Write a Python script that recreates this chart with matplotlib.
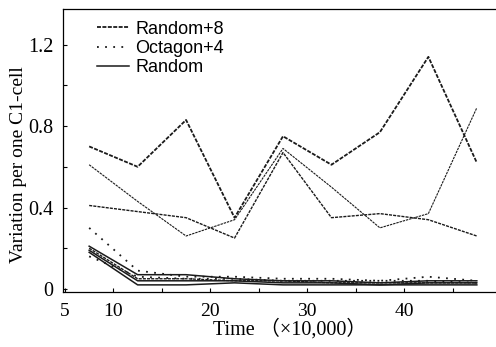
import matplotlib.pyplot as plt
from matplotlib.ticker import FixedLocator

# time steps (x10,000)
time = [7.5, 12.5, 17.5, 22.5, 27.5, 32.5, 37.5, 42.5, 47.5]

# upper runs (Random+8)
rand8_a = [0.70, 0.60, 0.83, 0.35, 0.75, 0.61, 0.77, 1.14, 0.62]
rand8_b = [0.61, 0.43, 0.26, 0.34, 0.69, 0.50, 0.30, 0.37, 0.89]
rand8_c = [0.41, 0.38, 0.35, 0.25, 0.67, 0.35, 0.37, 0.34, 0.26]
rand8_d = [0.20, 0.05, 0.05, 0.04, 0.04, 0.03, 0.03, 0.03, 0.03]

# Octagon+4 runs
oct4_a = [0.30, 0.09, 0.06, 0.06, 0.05, 0.05, 0.04, 0.06, 0.04]
oct4_b = [0.16, 0.06, 0.05, 0.05, 0.04, 0.04, 0.04, 0.04, 0.03]

# Random runs
rand_a = [0.21, 0.07, 0.07, 0.05, 0.04, 0.04, 0.03, 0.04, 0.04]
rand_b = [0.19, 0.04, 0.04, 0.04, 0.03, 0.03, 0.02, 0.03, 0.03]
rand_c = [0.18, 0.02, 0.02, 0.03, 0.02, 0.02, 0.02, 0.02, 0.02]

ink = '#1a1a1a'
dash8 = (0, (2.2, 0.8))
dots = (0, (1, 3.5))

fig = plt.figure(figsize=(4.96, 3.47), dpi=100)
ax = fig.add_axes([63/496, 55/347, 440/496, 283/347])

ax.plot(time, rand8_a, color=ink, lw=1.3, linestyle=dash8, label='Random+8')
ax.plot(time, rand8_b, color=ink, lw=0.8, linestyle=dash8)
ax.plot(time, rand8_c, color=ink, lw=1.0, linestyle=dash8)
ax.plot(time, rand8_d, color=ink, lw=1.0, linestyle=dash8)
ax.plot(time, oct4_a, color=ink, lw=1.3, linestyle=dots, label='Octagon+4')
ax.plot(time, oct4_b, color=ink, lw=1.3, linestyle=dots)
ax.plot(time, rand_c, color=ink, lw=1.1, label='Random')
ax.plot(time, rand_a, color=ink, lw=1.1)
ax.plot(time, rand_b, color=ink, lw=1.1)

ax.set_xlim(4.8, 50.2)
ax.set_ylim(-0.015, 1.375)
ax.xaxis.set_major_locator(FixedLocator([5, 10, 20, 30, 40]))
ax.xaxis.set_minor_locator(FixedLocator([15, 25, 35, 45]))
ax.yaxis.set_major_locator(FixedLocator([0, 0.4, 0.8, 1.2]))
ax.yaxis.set_minor_locator(FixedLocator([0.2, 0.6, 1.0]))
ax.set_yticklabels(['0', '0.4', '0.8', '1.2'])
ax.tick_params(which='both', direction='in', length=3, width=0.8, top=False, right=False)
ax.tick_params(axis='x', labelsize=14, pad=8)
ax.tick_params(axis='y', labelsize=14.5, pad=7)
for lab in ax.get_xticklabels() + ax.get_yticklabels():
    lab.set_family('Liberation Serif')
ax.spines['right'].set_visible(False)
for s in ['left', 'bottom', 'top']:
    ax.spines[s].set_linewidth(0.9)

ax.set_xlabel('Time （×10,000）', family=['Liberation Serif', 'Noto Sans CJK JP'], fontsize=14.5)
ax.xaxis.set_label_coords(0.515, -0.095)
ax.set_ylabel('Variation per one C1-cell', family='Liberation Serif', fontsize=14)
ax.yaxis.set_label_coords(-0.082, 0.45)

leg = ax.legend(loc='upper left', bbox_to_anchor=(0.05, 1.0), frameon=False,
                prop={'family': 'Liberation Sans', 'size': 13},
                handlelength=1.8, handletextpad=0.35, labelspacing=0.12, borderaxespad=0.25)

fig.savefig('out.png', dpi=100)
